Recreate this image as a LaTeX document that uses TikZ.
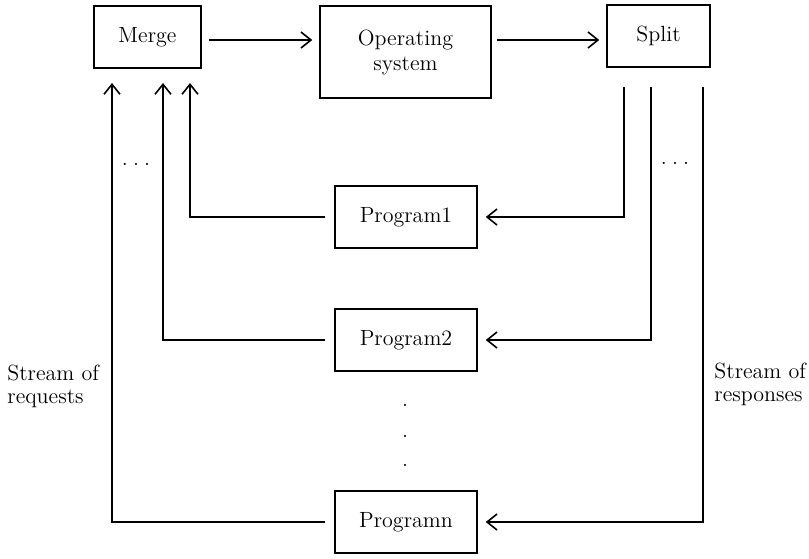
\documentclass[tikz,border=0pt]{standalone}
\usetikzlibrary{arrows.meta}
\begin{document}
\begin{tikzpicture}[x=0.5pt,y=-0.5pt,
  box/.style={draw,line width=0.75pt,minimum width=#1,inner sep=0pt,font=\fontsize{11}{12.5}\selectfont,align=center},
  arr/.style={line width=0.6pt,-{Straight Barb[length=5pt,width=8pt,line width=0.8pt]}},
  ln/.style={line width=0.6pt},
  lbl/.style={font=\fontsize{11}{11.5}\selectfont,align=left,inner sep=0pt},
  dotx/.style={font=\fontsize{11}{12}\selectfont,inner sep=0pt,anchor=base}]
\useasboundingbox (0,0) rectangle (809,558);
% top row
\node[box=53.5pt,minimum height=31pt] (merge) at (147.5,37) {Merge};
\node[box=85.5pt,minimum height=46pt] (os) at (405.5,52) {Operating\\system};
\node[box=51.5pt,minimum height=31pt] (split) at (658.5,36) {Split};
% programs
\node[box=71pt,minimum height=31pt] (p1) at (406,217) {Program1};
\node[box=71pt,minimum height=31pt] (p2) at (406,340) {Program2};
\node[box=71pt,minimum height=31pt] (pn) at (406,522) {Programn};
% top arrows
\draw[arr] ([shift={(7,3)}]merge.east) -- ([shift={(-7,-12)}]os.west);
\draw[arr] ([shift={(5,-12)}]os.east) -- ([shift={(-7,4)}]split.west);
% request lines
\coordinate (m1) at (190,83);
\coordinate (m2) at (163,83);
\coordinate (mn) at (112,83);
\draw[arr] ([shift={(-9,0)}]p1.west) -| (m1);
\draw[arr] ([shift={(-9,0)}]p2.west) -| (m2);
\draw[arr] ([shift={(-9,0)}]pn.west) -| (mn);
% response lines
\coordinate (s1) at (624,87);
\coordinate (s2) at (651,87);
\coordinate (sn) at (703,87);
\draw[arr] (s1) |- ([shift={(8,0)}]p1.east);
\draw[arr] (s2) |- ([shift={(8,0)}]p2.east);
\draw[arr] (sn) |- ([shift={(8,0)}]pn.east);
% dots
\node[dotx] (dl) at (136,165) {.\hspace{2.6pt}.\hspace{2.6pt}.};
\node[dotx] (dr) at (675,164) {.\hspace{2.6pt}.\hspace{2.6pt}.};
\node[dotx] (dv1) at (405,406) {.};
\node[dotx] (dv2) at (405,437) {.};
\node[dotx] (dv3) at (405,466) {.};
% labels
\node[lbl,anchor=west] (req) at (7,386) {Stream of\\requests};
\node[lbl,anchor=west] (resp) at (714,384) {Stream of\\responses};
\end{tikzpicture}
\end{document}
